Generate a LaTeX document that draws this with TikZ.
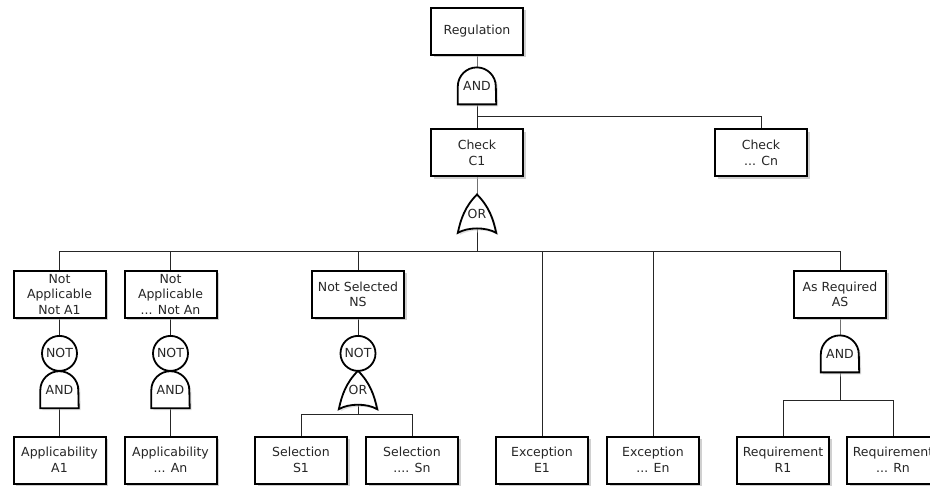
\documentclass[tikz,border=0pt]{standalone}
\usepackage{fontspec}
\setmainfont{DejaVu Sans}
\usetikzlibrary{positioning, shadows, backgrounds}
\tikzset{
	box/.style={draw, line width=2pt, fill=white, minimum width=92pt, minimum height=47pt,
		align=center, inner xsep=2pt, inner ysep=0pt, text=black!85,
		font=\fontsize{12.5}{15.5}\selectfont,
		drop shadow={shadow xshift=2.5pt, shadow yshift=-2.5pt, fill=black!30, opacity=.6}}, % every event box
	gate/.style={minimum width=38pt, minimum height=37pt, inner sep=0pt, text=black!85,
		font=\fontsize{12.5}{15.5}\selectfont}, % outline is drawn later, on the background
	notgate/.style={circle, draw, line width=1.8pt, fill=white, minimum size=35pt, inner sep=0pt,
		text=black!85, font=\fontsize{12.5}{15.5}\selectfont},
	gateline/.style={line width=1.8pt, fill=white,
		drop shadow={shadow xshift=2pt, shadow yshift=-2pt, fill=black!25, opacity=.5}},
	wire/.style={line width=1pt, black!85},
}

\begin{document}
\begin{tikzpicture}[x=1pt, y=-1pt]
	\useasboundingbox (0,0) rectangle (930,489);
	% the regulation and its checks
	\node[box] (Reg) at (477,31.5) {Regulation};
	\node[gate, below=11pt of Reg] (andReg) {AND};
	\node[box] (C1) at (477,153) {Check\\C1};
	\node[box] (Cn) at (761,153) {Check\\... Cn};
	\node[gate, minimum height=38pt, below=17pt of C1] (orC) {OR};
	\coordinate (barC) at (477,117);
	\coordinate (barM) at (477,252);
	
	%% second row
	\node[box] (NotA1) at (59.5,294.5) {Not\\Applicable\\Not A1};
	\node[box] (NotAn) at (170.5,294.5) {Not\\Applicable\\... Not An};
	\node[box] (NS) at (358,294.5) {Not Selected\\NS};
	\node[box] (AS) at (840,294.5) {As Required\\AS};
	
	%% gates below the second row
	\node[notgate, below=16pt of NotA1] (notA1) {NOT};
	\node[gate, below=-1pt of notA1] (andA1) {AND};
	\node[notgate, below=16pt of NotAn] (notAn) {NOT};
	\node[gate, below=-1pt of notAn] (andAn) {AND};
	\node[notgate, below=16pt of NS] (notNS) {NOT};
	\node[gate, minimum height=38pt, below=-1pt of notNS] (orNS) {OR};
	\node[gate, below=16pt of AS] (andAS) {AND};
	\coordinate (barS) at (358,414);
	\coordinate (barR) at (840,400);
	
	%% leaves
	\node[box] (A1) at (59.5,460) {Applicability\\A1};
	\node[box] (An) at (170.5,460) {Applicability\\... An};
	\node[box] (S1) at (301,460) {Selection\\S1};
	\node[box] (Sn) at (412,460) {Selection\\.... Sn};
	\node[box] (E1) at (542,460) {Exception\\E1};
	\node[box] (En) at (653,460) {Exception\\... En};
	\node[box] (R1) at (783,460) {Requirement\\R1};
	\node[box] (Rn) at (893,460) {Requirement\\... Rn};
	
	\begin{scope}[on background layer]
		\fill[white] (0,0) rectangle (930,489);
		% connectors
		\draw[wire] (Reg) -- (andReg.center) -- (C1);
		\draw[wire] (barC) -| (Cn);
		\draw[wire] (C1) -- (orC.center) -- (barM);
		\foreach \n in {NotA1,NotAn,NS,E1,En,AS}
			\draw[wire] (barM) -| (\n);
		\draw[wire] (NotA1) -- (notA1);
		\draw[wire] (andA1.center) -- (A1);
		\draw[wire] (NotAn) -- (notAn);
		\draw[wire] (andAn.center) -- (An);
		\draw[wire] (NS) -- (notNS);
		\draw[wire] (orNS.center) -- (barS);
		\draw[wire] (barS) -| (S1);
		\draw[wire] (barS) -| (Sn);
		\draw[wire] (AS) -- (andAS.center) -- (barR);
		\draw[wire] (barR) -| (R1);
		\draw[wire] (barR) -| (Rn);
		% gate outlines
		\foreach \g in {andReg,andA1,andAn,andAS}
			\draw[gateline] (\g.south west) -- ++(0pt,18pt) arc[start angle=180, end angle=0, radius=19pt]
				-- (\g.south east) -- cycle;
		\foreach \g in {orC,orNS}
			\draw[gateline] (\g.south west) .. controls +(3pt,14pt) and +(-12pt,-12pt) .. (\g.north)
				.. controls +(12pt,-12pt) and +(-3pt,14pt) .. (\g.south east)
				.. controls +(-10pt,6pt) and +(10pt,6pt) .. (\g.south west) -- cycle;
	\end{scope}
\end{tikzpicture}
\end{document}
